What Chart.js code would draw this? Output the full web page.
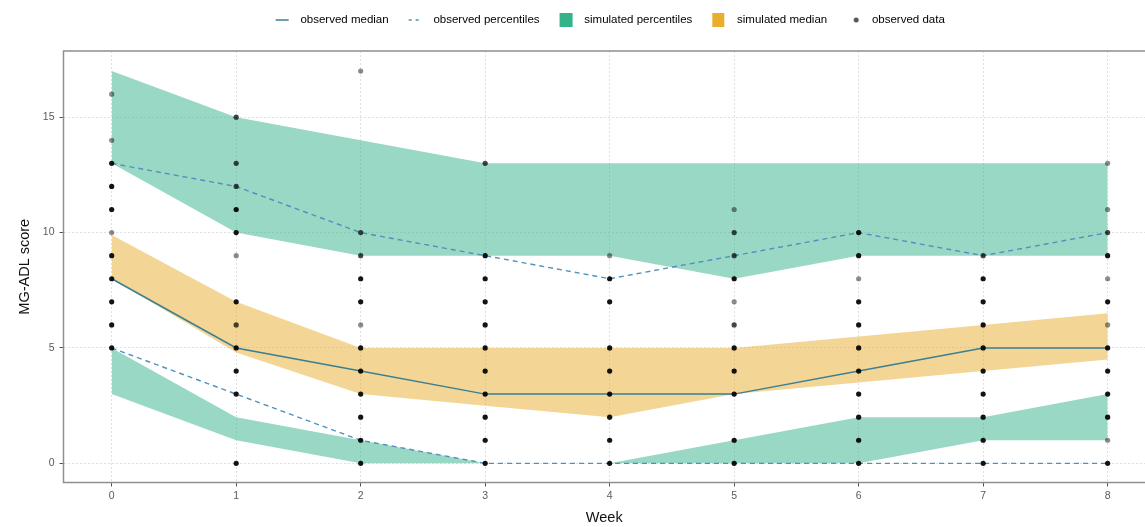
<!DOCTYPE html>
<html>
<head>
<meta charset="utf-8">
<script src="https://cdn.jsdelivr.net/npm/chart.js@4.4.1/dist/chart.umd.min.js"></script>
<style>
  body { margin: 0; background: #fff; }
  #wrap { width: 1145px; height: 527px; }
</style>
</head>
<body>
<div id="wrap"><canvas id="chart"></canvas></div>
<script>
// weeks on the x axis
const weeks = [0, 1, 2, 3, 4, 5, 6, 7, 8];
const yTicks = [0, 5, 10, 15];

// observed summaries
const obsMedian = [8, 5, 4, 3, 3, 3, 4, 5, 5];
const obsUpper = [13, 12, 10, 9, 8, 9, 10, 9, 10];
const obsLower = [5, 3, 1, 0, 0, 0, 0, 0, 0];

// simulated percentile bands (upper and lower) and simulated median band
const simUpperHi = [17, 15, 14, 13, 13, 13, 13, 13, 13];
const simUpperLo = [13, 10, 9, 9, 9, 8, 9, 9, 9];
const simLowerHi = [5, 2, 1, 0, 0, 1, 2, 2, 3];
const simLowerLo = [3, 1, 0, 0, 0, 0, 0, 1, 1];
const simMedHi = [9.9, 7, 5, 5, 5, 5, 5.5, 6, 6.5];
const simMedLo = [8, 4.8, 3, 2.5, 2, 3, 3.5, 4, 4.5];

// observed data per week: [score, how many overlap (darkness)]
const obsWeek0 = [[16,1],[14,1],[13,3],[12,3],[11,3],[10,1],[9,3],[8,3],[7,3],[6,3],[5,3]];
const obsWeek1 = [[15,2],[13,2],[12,2],[11,3],[10,3],[9,1],[7,3],[6,2],[5,3],[4,3],[3,3],[0,3]];
const obsWeek2 = [[17,1],[10,2],[9,2],[8,3],[7,3],[6,1],[5,3],[4,3],[3,3],[2,3],[1,3],[0,3]];
const obsWeek3 = [[13,2],[9,3],[8,3],[7,3],[6,3],[5,3],[4,3],[3,3],[2,3],[1,3],[0,3]];
const obsWeek4 = [[9,1],[8,3],[7,3],[5,3],[4,3],[3,3],[2,3],[1,3],[0,3]];
const obsWeek5 = [[11,1],[10,2],[9,2],[8,3],[7,1],[6,2],[5,3],[4,3],[3,3],[1,3],[0,3]];
const obsWeek6 = [[10,3],[9,3],[8,1],[7,3],[6,3],[5,3],[4,3],[3,3],[2,3],[1,3],[0,3]];
const obsWeek7 = [[9,2],[8,3],[7,3],[6,3],[5,3],[4,3],[3,3],[2,3],[1,3],[0,3]];
const obsWeek8 = [[13,1],[11,1],[10,2],[9,3],[8,1],[7,3],[6,1],[5,3],[4,3],[3,3],[2,3],[1,1],[0,3]];
const observedData = [obsWeek0, obsWeek1, obsWeek2, obsWeek3, obsWeek4, obsWeek5, obsWeek6, obsWeek7, obsWeek8];

const green = 'rgb(52,178,140)';
const greenFill = 'rgba(52,178,140,0.5)';
const orange = 'rgb(232,174,44)';
const orangeFill = 'rgba(232,174,44,0.5)';
const medianColor = '#3a7f94';
const dashColor = '#4f92bd';
const FONT = "'Liberation Sans', Arial, sans-serif";

function series(vals) {
    return weeks.map((w, i) => ({x: w, y: vals[i]}));
}

function pointShade(n) {
    return n === 1 ? 'rgba(0,0,0,0.45)' : n === 2 ? 'rgba(0,0,0,0.72)' : 'rgba(0,0,0,0.92)';
}

let obsPoints = [];
let obsColors = [];
observedData.forEach((list, i) => {
    list.forEach(p => {
        obsPoints.push({x: weeks[i], y: p[0]});
        obsColors.push(pointShade(p[1]));
    });
});

// small legend key images
function keyImage(draw) {
    const c = document.createElement('canvas');
    c.width = 31; c.height = 16;
    const g = c.getContext('2d');
    draw(g);
    return c;
}
const keySolid = keyImage(g => {
    g.strokeStyle = medianColor; g.lineWidth = 1.5;
    g.beginPath(); g.moveTo(12, 8); g.lineTo(25, 8); g.stroke();
});
const keyDash = keyImage(g => {
    g.strokeStyle = dashColor; g.lineWidth = 1.5;
    g.setLineDash([3, 4]);
    g.beginPath(); g.moveTo(12, 8); g.lineTo(25, 8); g.stroke();
});
const keyGreen = keyImage(g => { g.fillStyle = green; g.fillRect(12, 1, 13, 14); });
const keyOrange = keyImage(g => { g.fillStyle = orange; g.fillRect(12, 1, 12, 14); });
const keyDot = keyImage(g => {
    g.fillStyle = '#555'; g.beginPath(); g.arc(21, 8, 2.5, 0, Math.PI * 2); g.fill();
});

const legendKeys = [
    {text: 'observed median', img: keySolid},
    {text: 'observed percentiles', img: keyDash},
    {text: 'simulated percentiles', img: keyGreen},
    {text: 'simulated median', img: keyOrange},
    {text: 'observed data', img: keyDot}
];

// panel frame: top, left, bottom (right side runs off the picture)
const panelBorder = {
    id: 'panelBorder',
    afterDraw(chart) {
        const a = chart.chartArea;
        const ctx = chart.ctx;
        ctx.save();
        ctx.strokeStyle = '#8f8f8f';
        ctx.lineWidth = 1.5;
        ctx.beginPath();
        ctx.moveTo(a.right + 2, a.top);
        ctx.lineTo(a.left, a.top);
        ctx.lineTo(a.left, a.bottom);
        ctx.lineTo(a.right + 2, a.bottom);
        ctx.stroke();
        ctx.restore();
    }
};

function band(data, color, fill, order) {
    return {data: series(data), borderWidth: 0, pointRadius: 0, backgroundColor: color,
        fill: fill, tension: 0, order: order};
}

function createChart() {
    new Chart(document.getElementById('chart'), {
        type: 'line',
        data: {
            datasets: [
                {label: 'observed data', data: obsPoints, showLine: false, pointRadius: 2.6,
                    pointBorderWidth: 0, pointBackgroundColor: obsColors, order: 0},
                {label: 'observed median', data: series(obsMedian), borderColor: medianColor,
                    borderWidth: 1.5, pointRadius: 0, tension: 0, fill: false, order: 1},
                {label: 'observed upper', data: series(obsUpper), borderColor: dashColor,
                    borderWidth: 1.4, borderDash: [5, 4], pointRadius: 0, tension: 0, fill: false, order: 2},
                {label: 'observed lower', data: series(obsLower), borderColor: dashColor,
                    borderWidth: 1.4, borderDash: [5, 4], pointRadius: 0, tension: 0, fill: false, order: 2},
                band(simUpperHi, greenFill, '+1', 5),
                band(simUpperLo, 'transparent', false, 5),
                band(simLowerHi, greenFill, '+1', 5),
                band(simLowerLo, 'transparent', false, 5),
                band(simMedHi, orangeFill, '+1', 4),
                band(simMedLo, 'transparent', false, 4)
            ]
        },
        options: {
            responsive: true,
            maintainAspectRatio: false,
            animation: false,
            layout: {autoPadding: false, padding: {top: 6.25, left: 0, right: 0, bottom: 0}},
            plugins: {
                tooltip: {enabled: false},
                legend: {
                    position: 'top',
                    fullSize: false,
                    onClick: null,
                    labels: {
                        usePointStyle: true,
                        pointStyleWidth: 31,
                        padding: 8,
                        color: '#555',
                        font: {family: FONT, size: 11.5},
                        generateLabels: () => legendKeys.map(k => ({
                            text: k.text, pointStyle: k.img, fillStyle: 'transparent',
                            strokeStyle: 'transparent', lineWidth: 0, hidden: false
                        }))
                    }
                }
            },
            scales: {
                x: {
                    type: 'linear',
                    position: 'bottom',
                    min: -0.387,
                    max: 8.3,
                    afterBuildTicks: s => { s.ticks = weeks.map(v => ({value: v})); },
                    afterFit: s => { s.height = 44.5; },
                    grid: {color: '#e0e0e0', lineWidth: 1, tickColor: '#555', tickLength: 4, tickWidth: 1},
                    border: {display: false, dash: [2, 2]},
                    ticks: {color: '#5a5a5a', padding: 3, font: {family: FONT, size: 10.5}, maxRotation: 0},
                    title: {display: true, text: 'Week', color: '#111',
                        font: {family: FONT, size: 14.5}, padding: {top: 0, bottom: 0}}
                },
                xTop: {
                    type: 'linear',
                    position: 'top',
                    display: true,
                    grid: {display: false, drawTicks: false},
                    border: {display: false},
                    ticks: {display: false},
                    afterFit: s => { s.height = 15.25; }
                },
                y: {
                    type: 'linear',
                    min: -0.83,
                    max: 17.87,
                    afterBuildTicks: s => { s.ticks = yTicks.map(v => ({value: v})); },
                    afterFit: s => { s.width = 63.5; },
                    grid: {color: '#e0e0e0', lineWidth: 1, tickColor: '#555', tickLength: 4, tickWidth: 1},
                    border: {display: false, dash: [2, 2]},
                    ticks: {color: '#5a5a5a', padding: 5, font: {family: FONT, size: 10.5}},
                    title: {display: true, text: 'MG-ADL score', color: '#111',
                        font: {family: FONT, size: 14.5}, padding: {top: 16, bottom: 0}}
                }
            }
        },
        plugins: [panelBorder]
    });
}

createChart();
</script>
</body>
</html>
